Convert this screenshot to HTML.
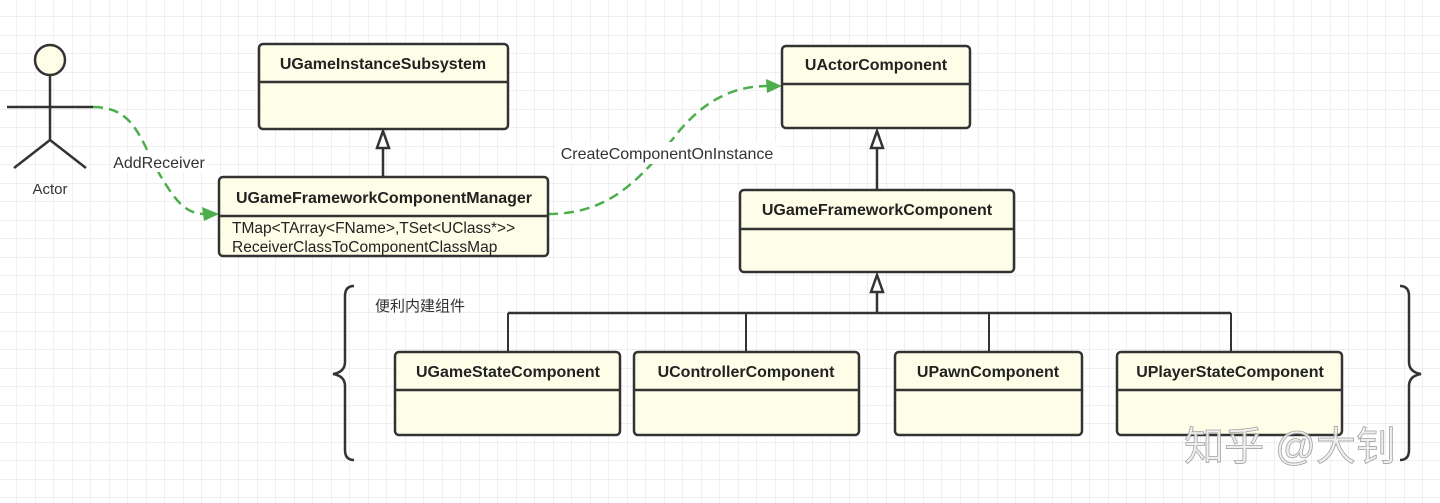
<!DOCTYPE html>
<html><head><meta charset="utf-8"><style>
html,body{margin:0;padding:0;background:#fff;}
svg{display:block;}
text{font-family:"Liberation Sans","Noto Sans CJK SC",sans-serif;}
.b{fill:#fdfde8;stroke:#333;stroke-width:2.5;}
.l{stroke:#333;stroke-width:2.5;fill:none;}
.t{font-weight:bold;font-size:16px;fill:#222;text-anchor:middle;}
.g{stroke:#4cae4c;stroke-width:2.5;fill:none;stroke-dasharray:10,6;}
</style></head><body>
<svg width="1440" height="503" viewBox="0 0 1440 503" xmlns="http://www.w3.org/2000/svg">
<defs>
<pattern id="grid" width="18.5" height="18.5" patternUnits="userSpaceOnUse" x="-1.5" y="-1.5">
<path d="M18.5 0V18.5H0" fill="none" stroke="#e2e2e2" stroke-width="1"/>
</pattern>
</defs>
<rect width="1440" height="503" fill="url(#grid)"/>

<!-- Actor -->
<circle cx="50" cy="60" r="15" class="b"/>
<line x1="50" y1="75" x2="50" y2="140" class="l"/>
<line x1="7" y1="107" x2="93" y2="107" class="l"/>
<line x1="50" y1="140" x2="14" y2="168" class="l"/>
<line x1="50" y1="140" x2="86" y2="168" class="l"/>
<text x="50" y="194" font-size="15" fill="#333" text-anchor="middle">Actor</text>

<!-- green dashed arrows -->
<path d="M93 107 C135 107,140 140,160 175 C175 200,185 214,205 214" class="g"/>
<polygon points="219,214 202,207 204,221" fill="#4cae4c"/>
<rect x="111" y="152" width="96" height="20" fill="#fff"/>
<text x="159" y="168" font-size="16" fill="#333" text-anchor="middle">AddReceiver</text>

<path d="M548 214 C610 214,640 180,680 130 C710 95,740 86,768 86" class="g"/>
<polygon points="782,86 766,79 767,93" fill="#4cae4c"/>
<rect x="556" y="142" width="222" height="22" fill="#fff"/>
<text x="667" y="159" font-size="16" fill="#333" text-anchor="middle">CreateComponentOnInstance</text>

<!-- UGameInstanceSubsystem -->
<rect x="259" y="44" width="249" height="85" rx="4" class="b"/>
<line x1="259" y1="82" x2="508" y2="82" class="l"/>
<text x="383" y="69" class="t">UGameInstanceSubsystem</text>
<line x1="383" y1="177" x2="383" y2="148" class="l"/>
<polygon points="383,131 377,148 389,148" fill="#fff" stroke="#333" stroke-width="2.5"/>

<!-- Manager -->
<rect x="219" y="177" width="329" height="79" rx="4" class="b"/>
<line x1="219" y1="216" x2="548" y2="216" class="l"/>
<text x="384" y="203" class="t" font-size="16.5">UGameFrameworkComponentManager</text>
<text x="232" y="233" font-size="15.5" fill="#222">TMap&lt;TArray&lt;FName&gt;,TSet&lt;UClass*&gt;&gt;</text>
<text x="232" y="252" font-size="15.5" fill="#222">ReceiverClassToComponentClassMap</text>

<!-- UActorComponent -->
<rect x="782" y="46" width="188" height="82" rx="4" class="b"/>
<line x1="782" y1="84" x2="970" y2="84" class="l"/>
<text x="876" y="70" class="t">UActorComponent</text>
<line x1="877" y1="190" x2="877" y2="148" class="l"/>
<polygon points="877,131 871,148 883,148" fill="#fff" stroke="#333" stroke-width="2.5"/>

<!-- UGameFrameworkComponent -->
<rect x="740" y="190" width="274" height="82" rx="4" class="b"/>
<line x1="740" y1="229" x2="1014" y2="229" class="l"/>
<text x="877" y="215" class="t">UGameFrameworkComponent</text>

<!-- bus -->
<line x1="877" y1="313" x2="877" y2="292" class="l"/>
<polygon points="877,275 871,292 883,292" fill="#fff" stroke="#333" stroke-width="2.5"/>
<line x1="508" y1="313" x2="1231" y2="313" class="l"/>
<line x1="508" y1="313" x2="508" y2="352" stroke="#333" stroke-width="2"/>
<line x1="746" y1="313" x2="746" y2="352" stroke="#333" stroke-width="2"/>
<line x1="989" y1="313" x2="989" y2="352" stroke="#333" stroke-width="2"/>
<line x1="1231" y1="313" x2="1231" y2="352" stroke="#333" stroke-width="2"/>

<!-- bottom boxes -->
<rect x="395" y="352" width="225" height="83" rx="4" class="b"/>
<line x1="395" y1="390" x2="620" y2="390" class="l"/>
<text x="508" y="377" class="t">UGameStateComponent</text>
<rect x="634" y="352" width="225" height="83" rx="4" class="b"/>
<line x1="634" y1="390" x2="859" y2="390" class="l"/>
<text x="746" y="377" class="t">UControllerComponent</text>
<rect x="895" y="352" width="187" height="83" rx="4" class="b"/>
<line x1="895" y1="390" x2="1082" y2="390" class="l"/>
<text x="988" y="377" class="t">UPawnComponent</text>
<rect x="1117" y="352" width="225" height="83" rx="4" class="b"/>
<line x1="1117" y1="390" x2="1342" y2="390" class="l"/>
<text x="1230" y="377" class="t">UPlayerStateComponent</text>

<text x="375" y="311" font-size="15" fill="#333">便利内建组件</text>

<!-- braces -->
<path d="M354 286 Q345 286,345 296 V362 Q345 372,333 374 Q345 376,345 386 V450 Q345 460,354 460" class="l"/>
<path d="M1400 286 Q1409 286,1409 296 V362 Q1409 372,1421 374 Q1409 376,1409 386 V450 Q1409 460,1400 460" class="l"/>

<!-- watermark -->
<text x="1290" y="460" font-size="40" fill="#eeeeee" stroke="#9a9a9a" stroke-width="0.8" text-anchor="middle" opacity="0.9">知乎 @大钊</text>
</svg>
</body></html>
